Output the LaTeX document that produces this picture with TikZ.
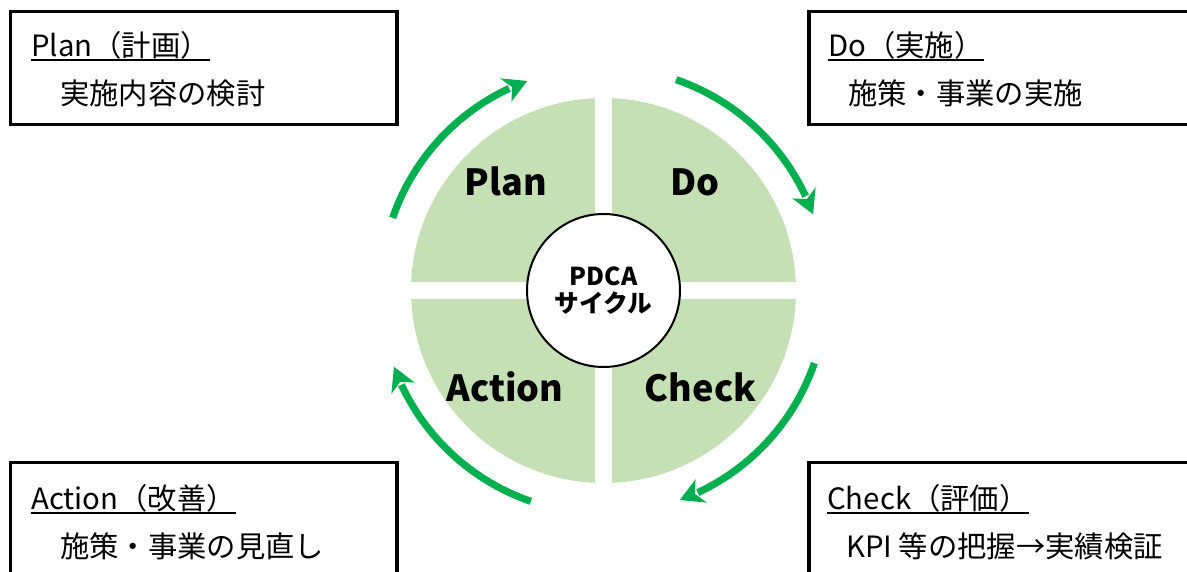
\documentclass[tikz,border=0pt]{standalone}
\usepackage{fontspec}
\setmainfont{Noto Sans CJK JP}
\usepackage{tikz}
\definecolor{pdcafill}{HTML}{C5E0B4}
\definecolor{pdcaarrow}{HTML}{00B050}

\begin{document}
\begin{tikzpicture}[x=0.75pt,y=0.75pt]
    \tikzstyle{every node}+=[inner sep=0pt]
    \tikzstyle{box}=[black,line width=2.6pt]
    \tikzstyle{ttl}=[anchor=base west,font=\fontsize{22}{26}\selectfont]
    \tikzstyle{memo}=[anchor=base west,font=\fontsize{22}{26}\selectfont]
    \tikzstyle{uline}=[black,line width=1.5pt]
    \tikzstyle{qlabel}=[anchor=base,font=\fontsize{27}{32}\selectfont\bfseries]
    \tikzstyle{turn}=[pdcaarrow,line width=5.4pt]
    \useasboundingbox (0,0) rectangle (1187,571);
    \clip (0,0) rectangle (1187,571);
    \draw [box] (10.5,559.5) rectangle (397,446.5);
    \draw [box] (809,559.5) rectangle (1197,446.5);
    \draw [box] (10.5,108.5) rectangle (397,-10);
    \draw [box] (809,108.5) rectangle (1197,-10);
    \node [ttl] (plant) at (31,514.5) {Plan（計画）};
    \draw [uline] ([yshift=-3pt]plant.base west) -- ([yshift=-3pt]plant.base east);
    \node [memo] (planm) at (60,466) {実施内容の検討};
    \node [ttl] (dot) at (828,514.5) {Do（実施）};
    \draw [uline] ([yshift=-3pt]dot.base west) -- ([yshift=-3pt]dot.base east);
    \node [memo] (dom) at (848,466) {施策・事業の実施};
    \node [ttl] (actiont) at (31,62) {Action（改善）};
    \draw [uline] ([yshift=-3pt]actiont.base west) -- ([yshift=-3pt]actiont.base east);
    \node [memo] (actionm) at (60,14) {施策・事業の見直し};
    \node [ttl] (checkt) at (827,62) {Check（評価）};
    \draw [uline] ([yshift=-3pt]checkt.base west) -- ([yshift=-3pt]checkt.base east);
    \node [memo] (checkm) at (846,14) {KPI 等の把握→実績検証};
    \begin{scope}[shift={(603.5,280.5)}]
    \fill [pdcafill] (0,0) circle (192.5);
    \fill [white] (-8.5,-196) rectangle (8.5,196);
    \fill [white] (-196,-8.5) rectangle (196,8.5);
    \node [qlabel] (plan) at (-97.5,94.5) {Plan};
    \node [qlabel] (do) at (91.5,94.5) {Do};
    \node [qlabel] (action) at (-98.5,-111.5) {Action};
    \node [qlabel] (check) at (97,-111.5) {Check};
    \node [circle,draw=black,line width=1.5pt,fill=white,minimum size=114.75pt,align=center,
           font=\fontsize{18.5}{20}\selectfont\bfseries] (pdca) at (0,0) {PDCA\\サイクル};
    \draw [turn] (161:223) arc (161:115:223);
    \fill [pdcaarrow] (110:223) -- (116:236) -- (114.2:223) -- (116:210) -- cycle;
    \draw [turn] (71:223) arc (71:25:223);
    \fill [pdcaarrow] (20:223) -- (26:236) -- (24.2:223) -- (26:210) -- cycle;
    \draw [turn] (-19:223) arc (-19:-65:223);
    \fill [pdcaarrow] (-70:223) -- (-64:236) -- (-65.8:223) -- (-64:210) -- cycle;
    \draw [turn] (-109:223) arc (-109:-155:223);
    \fill [pdcaarrow] (-160:223) -- (-154:236) -- (-155.8:223) -- (-154:210) -- cycle;
    \end{scope}
\end{tikzpicture}
\end{document}
